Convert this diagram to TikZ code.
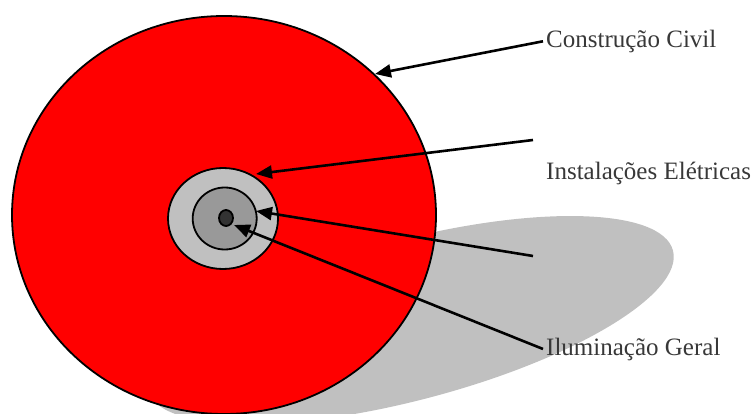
\documentclass[tikz,border=0pt]{standalone}
\usepackage{fontspec}
\setmainfont{Liberation Serif}
\usetikzlibrary{arrows.meta}
\definecolor{discred}{HTML}{FF0000}
\definecolor{lightgr}{HTML}{C0C0C0}
\definecolor{midgr}{HTML}{999999}
\definecolor{dotgr}{HTML}{333333}
\definecolor{txtgr}{HTML}{383838}
\tikzset{
  label/.style={anchor=base west, inner xsep=3pt, inner ysep=0pt, text=txtgr,
    font=\fontsize{25}{28}\selectfont},
  pointer/.style={line width=2.6pt, -{Triangle[length=16pt,width=13pt]}},
  ring/.style={draw=black, line width=1.8pt},
}
\begin{document}
\begin{tikzpicture}[x=1pt,y=-1pt]
\useasboundingbox (0,0) rectangle (755,414);
% shadow
\fill[lightgr, rotate around={14.8:(410,320)}] (410,320) ellipse [x radius=272, y radius=80];
% discs
\draw[ring, fill=discred] (224,215) ellipse [x radius=212, y radius=199];
\draw[ring, fill=lightgr] (223,218.5) ellipse [x radius=55, y radius=50.5];
\draw[ring, fill=midgr] (224.7,218.5) ellipse [x radius=32, y radius=31];
\draw[ring, fill=dotgr] (226,218) ellipse [x radius=7, y radius=8];
% targets
\coordinate (t1) at (375,74);
\coordinate (t2) at (256,174);
\coordinate (t3) at (256,211);
\coordinate (t4) at (234,225);
\coordinate (s2) at (533,140);
\coordinate (s3) at (533,256);
% labels
\node[label] (cc) at (543,47.3) {Construção Civil};
\node[label] (ie) at (543,180) {Instalações Elétricas};
\node[label] (ig) at (543,355) {Iluminação Geral};
% arrows
\draw[pointer] (cc.west) -- (t1);
\draw[pointer] (s2) -- (t2);
\draw[pointer] (s3) -- (t3);
\draw[pointer] (ig.west) -- (t4);
\end{tikzpicture}
\end{document}
